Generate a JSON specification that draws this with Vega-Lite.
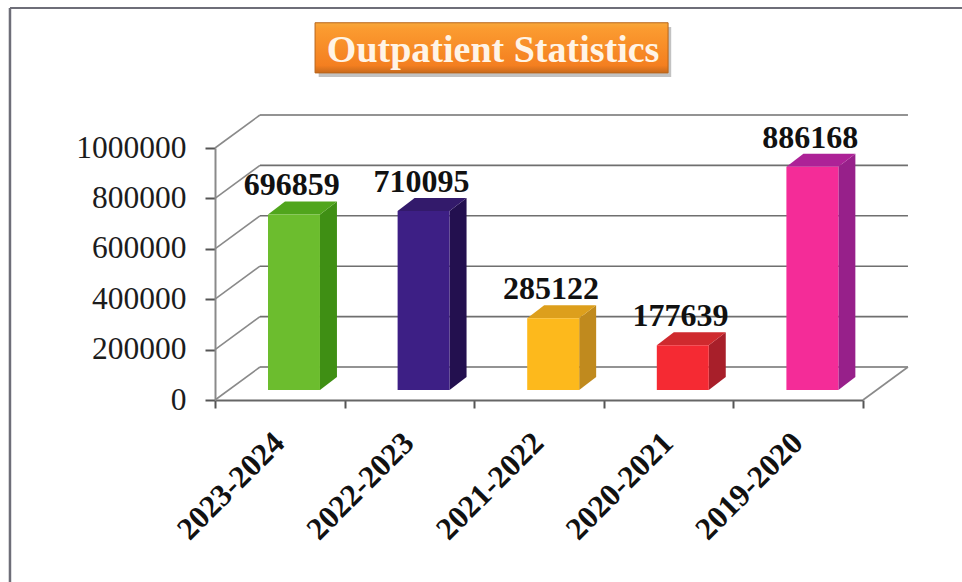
{
"$schema":"https://vega.github.io/schema/vega-lite/v6.json",
"width":648,"height":252,
"autosize":"none",
"padding":{"left":215,"top":148,"right":99,"bottom":182},
"background":"#ffffff",
"view":{"stroke":null},
"config":{"font":"Liberation Serif"},
"datasets":{
"bars":[
{"period":"2023-2024","value":696859},
{"period":"2022-2023","value":710095},
{"period":"2021-2022","value":285122},
{"period":"2020-2021","value":177639},
{"period":"2019-2020","value":886168}],
"ticks":[{"tick":0},{"tick":200000},{"tick":400000},{"tick":600000},{"tick":800000},{"tick":1000000}],
"heading":[{"title":"Outpatient Statistics"}]
},
"resolve":{"scale":{"x":"independent","color":"independent"},"axis":{"x":"independent"}},
"layer":[
{"data":{"name":"ticks"},
 "transform":[{"calculate":"0","as":"xa"},{"calculate":"0.347","as":"xb"},{"calculate":"datum.tick+131000","as":"yb"}],
 "mark":{"type":"rule","color":"#8a8a8a","strokeWidth":1.6},
 "encoding":{"x":{"field":"xa","type":"quantitative","scale":{"domain":[0,5],"nice":false,"zero":false},
   "axis":{"orient":"bottom","values":[0,1,2,3,4,5],"labels":false,"title":null,"grid":false,"domainColor":"#666666","domainWidth":2,"tickColor":"#555555","tickWidth":2,"tickSize":8}},
 "x2":{"field":"xb"},
 "y":{"field":"tick","type":"quantitative","scale":{"domain":[0,1000000],"nice":false},
   "axis":{"title":null,"format":"d","values":[0,200000,400000,600000,800000,1000000],"grid":false,"labelFontSize":31.5,"labelColor":"#1c1c1c","labelFont":"Liberation Serif","labelPadding":19,"tickSize":10,"tickWidth":2,"tickColor":"#555555","domainColor":"#8a8a8a","domainWidth":2}},
 "y2":{"field":"yb"}}},
{"data":{"name":"heading"},
 "mark":{"type":"rule","color":"#6e6e78","strokeWidth":2.5},
 "encoding":{"x":{"datum":-1.582,"type":"quantitative","scale":{"domain":[0,5],"nice":false,"zero":false},"axis":null},
 "y":{"datum":-722000,"type":"quantitative"},
 "y2":{"datum":1555555}}},
{"data":{"name":"heading"},
 "mark":{"type":"rule","color":"#6e6e78","strokeWidth":2},
 "encoding":{"x":{"datum":-1.582,"type":"quantitative","scale":{"domain":[0,5],"nice":false,"zero":false},"axis":null},"x2":{"datum":7.27},
 "y":{"datum":1555555,"type":"quantitative"}}},
{"data":{"name":"ticks"},
 "transform":[{"calculate":"0.347","as":"xa"},{"calculate":"5.347","as":"xb"},{"calculate":"datum.tick+131000","as":"yb"}],
 "mark":{"type":"rule","color":"#6f6f6f","strokeWidth":1.6},
 "encoding":{"x":{"field":"xa","type":"quantitative","scale":{"domain":[0,5],"nice":false,"zero":false},"axis":null},"x2":{"field":"xb"},
 "y":{"field":"yb","type":"quantitative"}}},
{"data":{"name":"heading"},
 "mark":{"type":"rule","color":"#8a8a8a","strokeWidth":1.6},
 "encoding":{"x":{"datum":5,"type":"quantitative","scale":{"domain":[0,5],"nice":false,"zero":false},"axis":null},"x2":{"datum":5.347},
 "y":{"datum":0,"type":"quantitative"},"y2":{"datum":131000}}},
{"data":{"name":"bars"},
 "transform":[{"calculate":"indexof(['2023-2024','2022-2023','2021-2022','2020-2021','2019-2020'],datum.period)","as":"idx"},
 {"calculate":"[0,1]","as":"v"},{"flatten":["v"]},
 {"calculate":"datum.idx+0.81+datum.v*0.131","as":"xp"},
 {"calculate":"39700+datum.v*51600","as":"y0"},
 {"calculate":"datum.value+39700+datum.v*51600","as":"y1"}],
 "mark":{"type":"area","orient":"vertical","interpolate":"linear"},
 "encoding":{"x":{"field":"xp","type":"quantitative","scale":{"domain":[0,5],"nice":false,"zero":false},"axis":null},
 "y":{"field":"y0","type":"quantitative","stack":null},"y2":{"field":"y1"},
 "color":{"field":"period","type":"nominal","legend":null,"scale":{"domain":["2023-2024","2022-2023","2021-2022","2020-2021","2019-2020"],"range":["#3f8f14","#23104f","#c08a1e","#a81f2a","#97208a"]}}}},
{"data":{"name":"bars"},
 "transform":[{"calculate":"indexof(['2023-2024','2022-2023','2021-2022','2020-2021','2019-2020'],datum.period)","as":"idx"},
 {"calculate":"[0,1,2,3]","as":"v"},{"flatten":["v"]},
 {"calculate":"datum.idx+0.409+[0,0.131,0.401,0.532][datum.v]","as":"xp"},
 {"calculate":"datum.value+39700+(datum.v==3?51600:0)","as":"y0"},
 {"calculate":"datum.value+39700+(datum.v==0?0:51600)","as":"y1"}],
 "mark":{"type":"area","orient":"vertical","interpolate":"linear"},
 "encoding":{"x":{"field":"xp","type":"quantitative","scale":{"domain":[0,5],"nice":false,"zero":false},"axis":null},
 "y":{"field":"y0","type":"quantitative","stack":null},"y2":{"field":"y1"},
 "color":{"field":"period","type":"nominal","legend":null,"scale":{"domain":["2023-2024","2022-2023","2021-2022","2020-2021","2019-2020"],"range":["#50a51c","#331a6b","#dd9f1c","#cf2a2e","#ad2297"]}}}},
{"data":{"name":"bars"},
 "transform":[{"calculate":"indexof(['2023-2024','2022-2023','2021-2022','2020-2021','2019-2020'],datum.period)","as":"idx"},
 {"calculate":"datum.idx+0.409","as":"xa"},{"calculate":"datum.idx+0.81","as":"xb"},
 {"calculate":"39700","as":"y0"},{"calculate":"datum.value+39700","as":"y1"}],
 "mark":{"type":"rect"},
 "encoding":{"x":{"field":"xa","type":"quantitative","scale":{"domain":[0,5],"nice":false,"zero":false},"axis":null},"x2":{"field":"xb"},
 "y":{"field":"y0","type":"quantitative"},"y2":{"field":"y1"},
 "color":{"field":"period","type":"nominal","legend":null,"scale":{"domain":["2023-2024","2022-2023","2021-2022","2020-2021","2019-2020"],"range":["#6cbd2e","#3d1f85","#fdb91c","#f52a33","#f42c98"]}}}},
{"data":{"name":"bars"},
 "mark":{"type":"text","font":"Liberation Serif","fontWeight":"bold","fontSize":32,"color":"#111111","baseline":"alphabetic","xOffset":12,"yOffset":-29},
 "encoding":{"x":{"field":"period","type":"nominal","sort":null,"scale":{"type":"band","paddingInner":0,"paddingOuter":0},
   "axis":{"orient":"bottom","title":null,"ticks":false,"domain":false,"grid":false,"labelAngle":-45,"labelAlign":"right","labelBaseline":"middle","labelFont":"Liberation Serif","labelFontWeight":"bold","labelFontSize":31.5,"labelColor":"#111111","labelPadding":38}},
 "y":{"field":"value","type":"quantitative"},
 "text":{"field":"value","type":"nominal"}}},
{"data":{"name":"heading"},
 "mark":{"type":"rect","color":"#777777","opacity":0.45},
 "encoding":{"x":{"datum":0.8,"type":"quantitative","scale":{"domain":[0,5],"nice":false,"zero":false},"axis":null},"x2":{"datum":3.52},
 "y":{"datum":1480000,"type":"quantitative"},"y2":{"datum":1282000}}},
{"data":{"name":"heading"},
 "mark":{"type":"rect","stroke":"#b8651a","strokeWidth":1,
  "fill":{"gradient":"linear","x1":0,"x2":0,"y1":0,"y2":1,"stops":[{"offset":0,"color":"#f7a83a"},{"offset":0.12,"color":"#fb9b30"},{"offset":0.85,"color":"#f47f20"},{"offset":1,"color":"#c86a1c"}]}},
 "encoding":{"x":{"datum":0.772,"type":"quantitative","scale":{"domain":[0,5],"nice":false,"zero":false},"axis":null},"x2":{"datum":3.496},
 "y":{"datum":1497000,"type":"quantitative"},"y2":{"datum":1298000}}},
{"data":{"name":"heading"},
 "mark":{"type":"text","font":"Liberation Serif","fontWeight":"bold","fontSize":38,"color":"#fff4e6","align":"center","baseline":"alphabetic"},
 "encoding":{"x":{"datum":2.146,"type":"quantitative","scale":{"domain":[0,5],"nice":false,"zero":false},"axis":null},
 "y":{"datum":1341000,"type":"quantitative"},
 "text":{"field":"title","type":"nominal"}}}
]
}
